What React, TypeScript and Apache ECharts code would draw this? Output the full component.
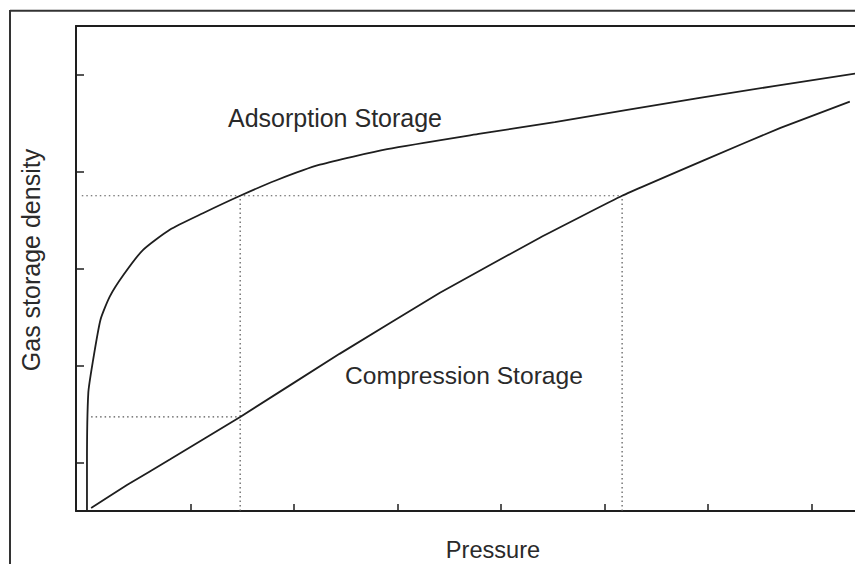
import React, { useEffect, useRef } from "react";
import * as echarts from "echarts";

// Pressure (arbitrary units) vs gas storage density (arbitrary units)
const adsorptionPressure = [0, 0.0, 0.013, 0.055, 0.13, 0.22, 0.35, 0.54, 0.8, 1.12, 1.48, 1.83, 2.25, 2.9, 3.8, 4.52, 5.92, 7.42];
const adsorptionDensity = [0, 0.49, 1.22, 1.53, 1.97, 2.21, 2.43, 2.69, 2.9, 3.07, 3.25, 3.41, 3.57, 3.73, 3.89, 4.01, 4.26, 4.51];

const compressionPressure = [0.04, 0.39, 0.8, 1.48, 2.44, 3.41, 4.38, 5.17, 5.97, 6.7, 7.37];
const compressionDensity = [0.03, 0.27, 0.53, 0.97, 1.62, 2.25, 2.82, 3.25, 3.62, 3.95, 4.22];

// reference (dotted) guide lines
const matchDensity = 3.25; // equal density level
const adsorptionMatchPressure = 1.48;
const compressionMatchPressure = 5.17;
const compressionAtAdsMatch = 0.97;

const xTicks = [1, 2, 3, 4, 5, 6, 7];
const yTicks = [0.5, 1.5, 2.5, 3.5, 4.5];

const labels = {
  x: "Pressure",
  y: "Gas storage density",
  ads: "Adsorption Storage",
  comp: "Compression Storage",
};

const FONT = "'Liberation Sans', Arial, Helvetica, sans-serif";
const INK = "#1e1e1e";

export default function App() {
  const ref = useRef<HTMLDivElement>(null);
  useEffect(() => {
    document.body.style.margin = "0";
    const chart = echarts.init(ref.current!, null, { renderer: "svg" });
    const zip = (xs: number[], ys: number[]) => xs.map((x, i) => [x, ys[i]]);
    const dotted = { color: "#555", width: 1.2, type: [1.5, 3] as any };
    chart.setOption({
      animation: false,
      backgroundColor: "#fff",
      grid: { left: 76, right: 0, top: 26, bottom: 53 },
      xAxis: [
        {
          type: "value",
          min: -0.106,
          max: 7.42,
          axisLine: { show: true, onZero: false, lineStyle: { color: INK, width: 2 } },
          axisTick: { show: true, inside: true, length: 7, customValues: xTicks, lineStyle: { color: INK, width: 1.5 } },
          axisLabel: { show: false },
          splitLine: { show: false },
        },
        {
          type: "value",
          position: "top",
          min: -0.106,
          max: 7.42,
          axisLine: { show: true, onZero: false, lineStyle: { color: INK, width: 2 } },
          axisTick: { show: false },
          axisLabel: { show: false },
          splitLine: { show: false },
        },
      ],
      yAxis: {
        type: "value",
        min: 0,
        max: 5,
        axisLine: { show: true, onZero: false, lineStyle: { color: INK, width: 2 } },
        axisTick: { show: true, inside: true, length: 8, customValues: yTicks, lineStyle: { color: INK, width: 1.5 } },
        axisLabel: { show: false },
        splitLine: { show: false },
      },
      series: [
        {
          type: "line",
          name: labels.ads,
          data: zip(adsorptionPressure, adsorptionDensity),
          showSymbol: false,
          smooth: 0.2,
          lineStyle: { color: INK, width: 1.8 },
          z: 3,
        },
        {
          type: "line",
          name: labels.comp,
          data: zip(compressionPressure, compressionDensity),
          showSymbol: false,
          smooth: 0.1,
          lineStyle: { color: INK, width: 1.8 },
          z: 3,
        },
        {
          type: "line",
          data: [[-0.05, matchDensity], [compressionMatchPressure, matchDensity]],
          showSymbol: false,
          lineStyle: dotted,
          z: 2,
        },
        {
          type: "line",
          data: [[adsorptionMatchPressure, 0], [adsorptionMatchPressure, matchDensity]],
          showSymbol: false,
          lineStyle: dotted,
          z: 2,
        },
        {
          type: "line",
          data: [[compressionMatchPressure, 0], [compressionMatchPressure, matchDensity]],
          showSymbol: false,
          lineStyle: dotted,
          z: 2,
        },
        {
          type: "line",
          data: [[0.04, compressionAtAdsMatch], [adsorptionMatchPressure, compressionAtAdsMatch]],
          showSymbol: false,
          lineStyle: dotted,
          z: 2,
        },
      ],
      graphic: [
        { type: "line", shape: { x1: 10, y1: 10.7, x2: 855, y2: 10.7 }, style: { stroke: "#333", lineWidth: 2 } },
        { type: "line", shape: { x1: 10, y1: 10, x2: 10, y2: 564 }, style: { stroke: "#333", lineWidth: 2 } },
        {
          type: "text",
          x: 228,
          y: 118,
          style: { text: labels.ads, font: `25px ${FONT}`, fill: "#2a2a2a", textAlign: "left", textVerticalAlign: "middle" },
        },
        {
          type: "text",
          x: 345,
          y: 375,
          style: { text: labels.comp, font: `24.6px ${FONT}`, fill: "#2a2a2a", textAlign: "left", textVerticalAlign: "middle" },
        },
        {
          type: "text",
          x: 493,
          y: 550,
          style: { text: labels.x, font: `23.6px ${FONT}`, fill: "#2a2a2a", textAlign: "center", textVerticalAlign: "middle" },
        },
        {
          type: "text",
          x: 31,
          y: 260,
          rotation: Math.PI / 2,
          style: { text: labels.y, font: `25px ${FONT}`, fill: "#2a2a2a", textAlign: "center", textVerticalAlign: "middle" },
        },
      ],
    });
    return () => chart.dispose();
  }, []);
  return <div ref={ref} style={{ width: 855, height: 564 }} />;
}
